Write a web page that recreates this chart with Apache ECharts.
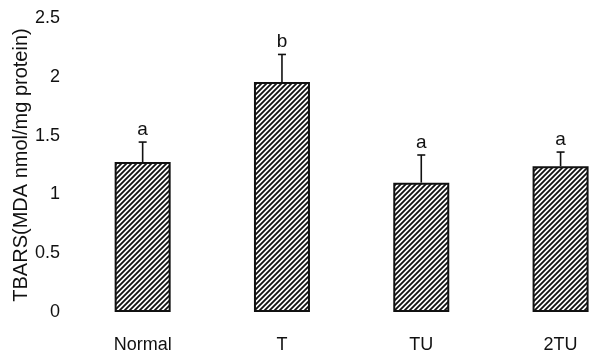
<!DOCTYPE html>
<html>
<head>
<meta charset="utf-8">
<script src="https://cdn.jsdelivr.net/npm/echarts@6/dist/echarts.min.js"></script>
<style>
html, body { margin: 0; padding: 0; background: #fff; }
#chart { width: 589px; height: 356px; }
</style>
</head>
<body>
<div id="chart"></div>
<script>
// values
var groups = ['Normal', 'T', 'TU', '2TU'];
var means = [1.275, 1.955, 1.10, 1.24];
var errs = [0.17, 0.235, 0.235, 0.12];
var letters = ['a', 'b', 'a', 'a'];
var yTicks = [0, 0.5, 1, 1.5, 2, 2.5];

// diagonal hatch tile
function hatch() {
    var n = 5;
    var c = document.createElement('canvas');
    c.width = n; c.height = n;
    var ctx = c.getContext('2d');
    ctx.fillStyle = '#fff';
    ctx.fillRect(0, 0, n, n);
    ctx.strokeStyle = '#111';
    ctx.lineWidth = 1.8;
    ctx.beginPath();
    ctx.moveTo(-1, n + 1); ctx.lineTo(n + 1, -1);
    ctx.moveTo(-1, 1); ctx.lineTo(1, -1);
    ctx.moveTo(n - 1, n + 1); ctx.lineTo(n + 1, n - 1);
    ctx.stroke();
    return c;
}

var font = '"Liberation Sans", Arial, sans-serif';
var chart = echarts.init(document.getElementById('chart'));

var barData = groups.map(function (g, i) { return [i, means[i]]; });
var errData = groups.map(function (g, i) { return [i, means[i], errs[i]]; });

chart.setOption({
    animation: false,
    grid: { left: 73, top: 18, right: 0, bottom: 44, outerBoundsMode: 'none' },
    xAxis: {
        // value axis so the last bar can sit near the right edge like the original
        type: 'value',
        min: -0.5,
        max: 3.204,
        axisLine: { show: false },
        axisTick: { show: false },
        splitLine: { show: false },
        axisLabel: {
            customValues: [0, 1, 2, 3],
            formatter: function (v) { return groups[Math.round(v)]; },
            fontSize: 18, color: '#111', fontFamily: font, margin: 24
        }
    },
    yAxis: {
        type: 'value',
        min: yTicks[0], max: yTicks[yTicks.length - 1], interval: 0.5,
        name: 'TBARS(MDA nmol/mg protein)',
        nameLocation: 'middle',
        nameRotate: 90,
        nameGap: 42,
        nameMoveOverlap: false,
        nameTextStyle: { fontSize: 20, color: '#111', fontFamily: font },
        axisLine: { show: false },
        axisTick: { show: false },
        splitLine: { show: false },
        axisLabel: { fontSize: 18, color: '#111', fontFamily: font, margin: 13 }
    },
    series: [
        {
            type: 'bar',
            data: barData,
            barWidth: 56,
            itemStyle: {
                color: { image: hatch(), repeat: 'repeat' },
                borderColor: '#111',
                borderWidth: 2
            }
        },
        {
            type: 'custom',
            data: errData,
            z: 5,
            renderItem: function (params, api) {
                var i = api.value(0);
                var top = api.coord([i, api.value(1)]);
                var hi = api.coord([i, api.value(1) + api.value(2)]);
                var x = top[0];
                return {
                    type: 'group',
                    children: [
                        { type: 'line', shape: { x1: x, y1: top[1], x2: x, y2: hi[1] },
                          style: { stroke: '#111', lineWidth: 1.6 } },
                        { type: 'line', shape: { x1: x - 4, y1: hi[1], x2: x + 4, y2: hi[1] },
                          style: { stroke: '#111', lineWidth: 1.6 } },
                        { type: 'text', x: x, y: hi[1] - 3,
                          style: { text: letters[params.dataIndex], fill: '#111', fontSize: 19,
                                   fontFamily: font, align: 'center', verticalAlign: 'bottom' } }
                    ]
                };
            }
        }
    ]
});
</script>
</body>
</html>
